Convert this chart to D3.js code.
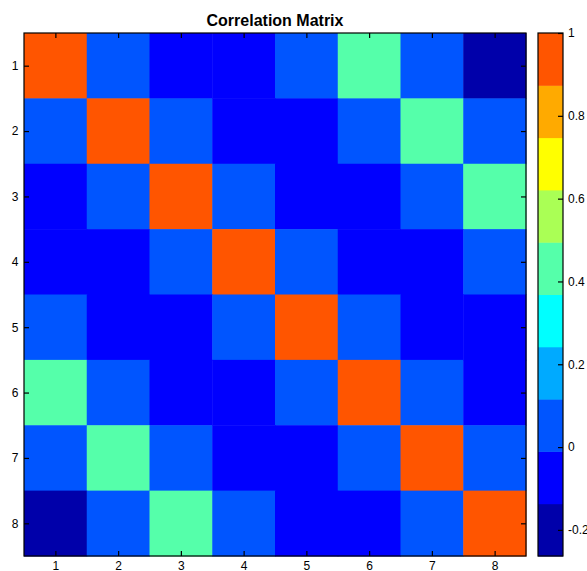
<!DOCTYPE html>
<html><head><meta charset="utf-8">
<script src="https://cdn.jsdelivr.net/npm/d3@7"></script>
<style>body{margin:0;background:#fff}svg{display:block;font-family:"Liberation Sans",Arial,Helvetica,sans-serif}</style>
</head><body>
<script>
const labels = ["1","2","3","4","5","6","7","8"];
const row1 = [1.00, 0.05, -0.07, -0.06, 0.04, 0.43, 0.05, -0.263];
const row2 = [0.05, 1.00, 0.06, -0.08, -0.05, 0.04, 0.43, 0.05];
const row3 = [-0.07, 0.06, 1.00, 0.05, -0.07, -0.06, 0.05, 0.43];
const row4 = [-0.06, -0.08, 0.05, 1.00, 0.06, -0.07, -0.05, 0.04];
const row5 = [0.04, -0.05, -0.07, 0.06, 1.00, 0.05, -0.08, -0.06];
const row6 = [0.43, 0.04, -0.06, -0.07, 0.05, 1.00, 0.06, -0.07];
const row7 = [0.05, 0.43, 0.05, -0.05, -0.08, 0.06, 1.00, 0.05];
const row8 = [-0.263, 0.05, 0.43, 0.04, -0.06, -0.07, 0.05, 1.00];
const matrix = [row1,row2,row3,row4,row5,row6,row7,row8];
const colors = ["#0000aa","#0000ff","#0055ff","#00aaff","#00ffff","#55ffaa","#aaff55","#ffff00","#ffaa00","#ff5500"];
const cbTicks = [-0.2, 0, 0.2, 0.4, 0.6, 0.8, 1];
const title = "Correlation Matrix";

const W = 587, H = 571;
const P = {l:24, t:33, r:526, b:556};
const CB = {l:538, r:563};
const FS = 12;

const svg = d3.select("body").append("svg").attr("width", W).attr("height", H);

const vmin = d3.min(matrix.flat()), vmax = d3.max(matrix.flat());
const color = d3.scaleQuantize().domain([vmin, vmax]).range(colors);

const x = d3.scaleBand().domain(labels).range([P.l, P.r]);
const y = d3.scaleBand().domain(labels).range([P.t, P.b]);

const cells = [];
matrix.forEach((r, i) => r.forEach((v, j) => cells.push({r: labels[i], c: labels[j], v})));

svg.append("g").selectAll("rect").data(cells).join("rect")
  .attr("x", d => x(d.c)).attr("y", d => y(d.r))
  .attr("width", x.bandwidth()+0.5).attr("height", y.bandwidth()+0.5)
  .attr("fill", d => color(d.v));

const tl = 5;
const xc = d3.scaleOrdinal().domain(labels).range(labels.map(l => x(l) + x.bandwidth()/2));
const yc = d3.scaleOrdinal().domain(labels).range(labels.map(l => y(l) + y.bandwidth()/2));

const axB = svg.append("g").attr("transform", `translate(0,${P.b})`)
  .call(d3.axisBottom(xc).tickSizeInner(-tl).tickSizeOuter(0).tickPadding(5.5));
const axT = svg.append("g").attr("transform", `translate(0,${P.t})`)
  .call(d3.axisTop(xc).tickSizeInner(-tl).tickSizeOuter(0).tickFormat(""));
const axL = svg.append("g").attr("transform", `translate(${P.l},0)`)
  .call(d3.axisLeft(yc).tickSizeInner(-tl).tickSizeOuter(0).tickPadding(5.5));
const axR = svg.append("g").attr("transform", `translate(${P.r},0)`)
  .call(d3.axisRight(yc).tickSizeInner(-tl).tickSizeOuter(0).tickFormat(""));
[axB, axT, axL, axR].forEach(g => {
  g.select(".domain").remove();
  g.selectAll("line").attr("stroke", "#000").attr("stroke-width", 1.2);
  g.selectAll("text").attr("font-size", FS).attr("fill", "#000").attr("font-family", null);
});
svg.append("rect").attr("x", P.l).attr("y", P.t).attr("width", P.r-P.l).attr("height", P.b-P.t)
  .attr("fill", "none").attr("stroke", "#000").attr("stroke-width", 1.2);

svg.append("text").attr("x", (P.l+P.r)/2).attr("y", 26).attr("text-anchor", "middle")
  .attr("font-weight", "bold").attr("font-size", 16).text(title);

const cy = d3.scaleLinear().domain([vmin, vmax]).range([P.b, P.t]);
const bands = colors.map(c => {
  const e = color.invertExtent(c);
  return {c, y0: e[0], y1: e[1]};
});
svg.append("g").selectAll("rect").data(bands).join("rect")
  .attr("x", CB.l).attr("width", CB.r-CB.l)
  .attr("y", d => cy(d.y1)).attr("height", d => cy(d.y0)-cy(d.y1)+0.5)
  .attr("fill", d => d.c);
const axC = svg.append("g").attr("transform", `translate(${CB.r},0)`)
  .call(d3.axisRight(cy).tickValues(cbTicks).tickSizeInner(-tl).tickSizeOuter(0).tickPadding(5)
    .tickFormat(d => String(d)));
axC.select(".domain").remove();
axC.selectAll("line").attr("stroke", "#000").attr("stroke-width", 1.2);
axC.selectAll("text").attr("font-size", FS).attr("fill", "#000").attr("font-family", null);
svg.append("rect").attr("x", CB.l).attr("y", P.t).attr("width", CB.r-CB.l).attr("height", P.b-P.t)
  .attr("fill", "none").attr("stroke", "#000").attr("stroke-width", 1.2);
</script>
</body></html>
